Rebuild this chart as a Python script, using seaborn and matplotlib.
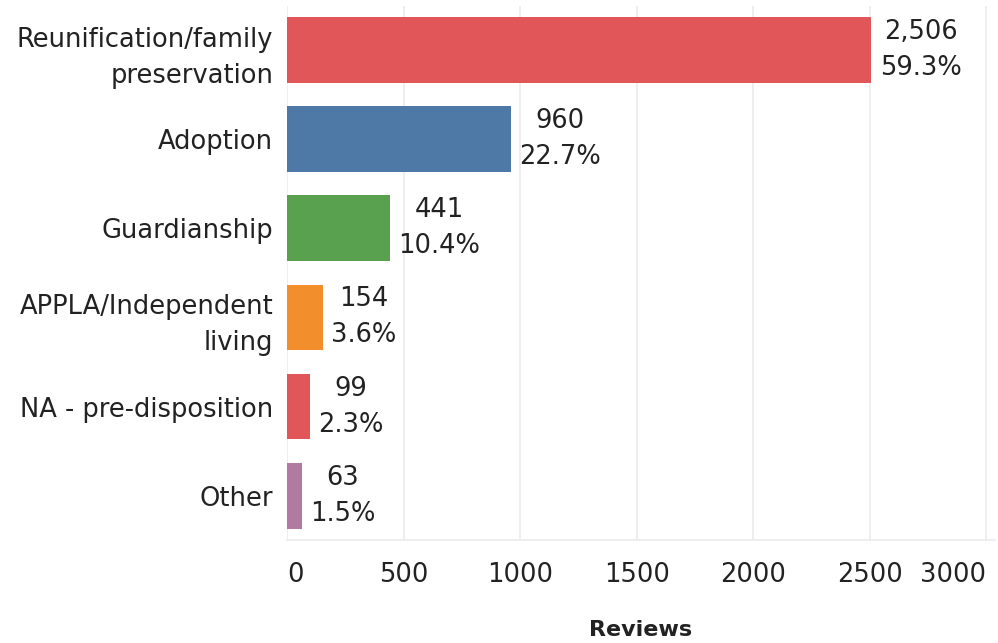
import pandas as pd
import matplotlib.pyplot as plt
import seaborn as sns

# данные с картинки
categories = ['Reunification/family\npreservation', 'Adoption', 'Guardianship',
              'APPLA/Independent\nliving', 'NA - pre-disposition', 'Other']
reviews = [2506, 960, 441, 154, 99, 63]
colors = ['#E15759', '#4E79A7', '#59A14F', '#F28E2B', '#E15759', '#B07AA1']
x_ticks = [0, 500, 1000, 1500, 2000, 2500, 3000]

df = pd.DataFrame({'category': categories, 'reviews': reviews})
total = sum(reviews)

sns.set_style('white')
plt.rcParams['font.family'] = ['DejaVu Sans']
txt_color = '#222222'
fs = 18.5

fig = plt.figure(figsize=(9.98, 6.43), dpi=100)
ax = fig.add_axes([0.2876, 0.160, 0.709, 0.831])

sns.barplot(data=df, x='reviews', y='category', hue='category', palette=colors,
            legend=False, width=0.74, ax=ax, saturation=1, linewidth=0)

# подписи значений
for i, v in enumerate(reviews):
    ax.annotate(f"{v:,}\n{v / total * 100:.1f}%", xy=(v, i), xytext=(6, 0),
                textcoords='offset points', ha='left', va='center',
                multialignment='center', fontsize=fs, color=txt_color,
                linespacing=1.5)

ax.set_xlim(0, 3035)
ax.set_ylim(5.5, -0.5)
ax.set_xticks(x_ticks)
ax.grid(axis='x', color='#ebebeb', linewidth=1.2)
ax.set_axisbelow(True)
for s in ['top', 'right', 'left']:
    ax.spines[s].set_visible(False)
ax.spines['bottom'].set_color('#ebebeb')
ax.spines['bottom'].set_linewidth(1.2)

ax.tick_params(axis='x', length=7, color='#ebebeb', width=1.2, labelsize=fs,
               labelcolor=txt_color, pad=9)
ax.tick_params(axis='y', length=0, labelsize=fs, labelcolor=txt_color, pad=10)
xl = ax.get_xticklabels()
xl[0].set_horizontalalignment('left')
xl[-1].set_horizontalalignment('right')
for lbl in ax.get_yticklabels():
    lbl.set_linespacing(1.5)
    lbl.set_multialignment('right')

ax.set_ylabel('')
ax.set_xlabel('Reviews', fontsize=16, fontweight='bold', color=txt_color, labelpad=23)

plt.savefig('out.png', dpi=100)
